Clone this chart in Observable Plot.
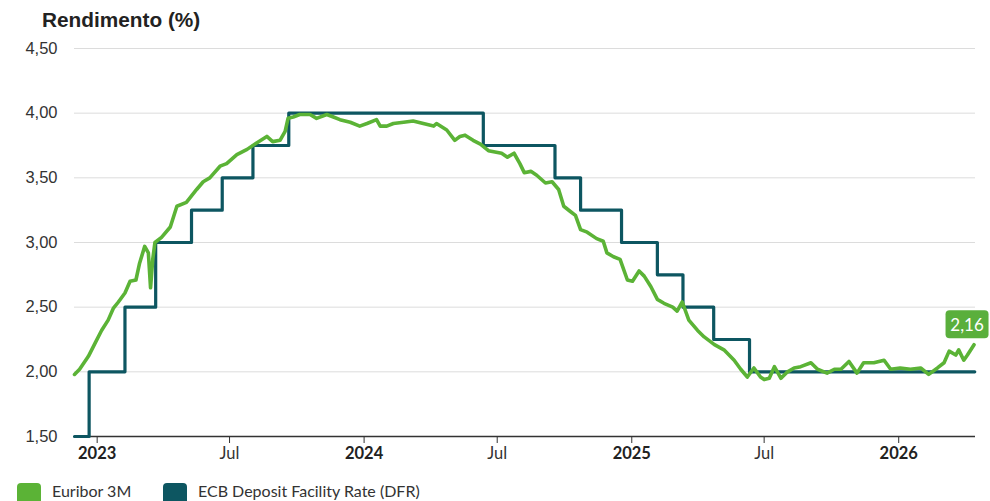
<!DOCTYPE html>
<html>
<head>
<meta charset="utf-8">
<script src="https://cdn.jsdelivr.net/npm/d3@7"></script>
<script src="https://cdn.jsdelivr.net/npm/@observablehq/plot@0.6"></script>
<style>
  html, body { margin: 0; padding: 0; background: #fff; }
  #wrap { position: relative; width: 990px; height: 501px; overflow: hidden; background: #fff; }
  #title { position: absolute; left: 42px; top: 8px; font: bold 20.8px "Liberation Sans", Arial, sans-serif; color: #222; white-space: nowrap; }
  #chart { position: absolute; left: 0; top: 30px; }
  #legend { position: absolute; left: 0; top: 482px; height: 19px; width: 990px; font: 16px Lato, sans-serif; color: #333; }
  .sw { position: absolute; top: 1px; width: 24px; height: 24px; border-radius: 4px; }
  .lab { position: absolute; top: 0px; line-height: 18px; white-space: nowrap; }
</style>
</head>
<body>
<div id="wrap">
  <div id="title"></div>
  <div id="chart"></div>
  <div id="legend"></div>
</div>
<script>
// ---- data ----
const titleText = "Rendimento (%)";
const seriesNames = ["Euribor 3M", "ECB Deposit Facility Rate (DFR)"];
const seriesColors = ["#5bb336", "#0d5661"];
const lastLabel = "2,16";

const euriborDates = [
  "2022-12-01","2022-12-08","2022-12-20","2022-12-29","2023-01-07","2023-01-16","2023-01-23","2023-01-30",
  "2023-02-08","2023-02-15","2023-02-23","2023-02-28","2023-03-07","2023-03-12","2023-03-15","2023-03-18",
  "2023-03-21","2023-03-30","2023-04-11","2023-04-20","2023-05-03","2023-05-17","2023-05-26","2023-06-04",
  "2023-06-18","2023-06-27","2023-07-11","2023-07-25","2023-08-07","2023-08-21","2023-08-29","2023-09-08",
  "2023-09-15","2023-09-19","2023-09-26","2023-10-05","2023-10-19","2023-10-28","2023-11-11","2023-11-20",
  "2023-11-29","2023-12-13","2023-12-26","2024-01-05","2024-01-18","2024-01-23","2024-02-01","2024-02-10",
  "2024-02-24","2024-03-08","2024-03-22","2024-04-05","2024-04-09","2024-04-23","2024-05-04","2024-05-11",
  "2024-05-18","2024-05-29","2024-06-08","2024-06-19","2024-06-28","2024-07-07","2024-07-15","2024-07-24",
  "2024-08-01","2024-08-07","2024-08-16","2024-08-24","2024-09-05","2024-09-14","2024-09-23","2024-09-30",
  "2024-10-09","2024-10-16","2024-10-23","2024-11-01","2024-11-14","2024-11-23","2024-11-28","2024-12-07",
  "2024-12-16","2024-12-26","2025-01-02","2025-01-11","2025-01-18","2025-01-27","2025-02-05","2025-02-14",
  "2025-02-26","2025-03-04","2025-03-11","2025-03-20","2025-04-01","2025-04-10","2025-04-24","2025-05-07",
  "2025-05-21","2025-05-30","2025-06-08","2025-06-17","2025-06-26","2025-07-01","2025-07-08","2025-07-15",
  "2025-07-24","2025-08-02","2025-08-11","2025-08-20","2025-09-03","2025-09-12","2025-09-25","2025-10-05",
  "2025-10-14","2025-10-25","2025-11-05","2025-11-14","2025-11-28","2025-12-12","2025-12-21","2026-01-03",
  "2026-01-17","2026-01-31","2026-02-11","2026-02-23","2026-03-04","2026-03-11","2026-03-20","2026-03-24",
  "2026-03-31","2026-04-05","2026-04-14"
];
const euriborValues = [
  1.98,2.02,2.12,2.22,2.32,2.40,2.49,2.54,
  2.61,2.70,2.71,2.84,2.97,2.92,2.65,2.87,
  3.00,3.04,3.12,3.28,3.31,3.41,3.47,3.50,
  3.59,3.61,3.68,3.72,3.77,3.82,3.78,3.79,
  3.86,3.96,3.97,3.99,3.99,3.96,3.99,3.97,
  3.95,3.93,3.90,3.92,3.95,3.90,3.90,3.92,
  3.93,3.94,3.92,3.90,3.92,3.87,3.79,3.82,
  3.83,3.79,3.76,3.71,3.70,3.69,3.66,3.69,
  3.61,3.54,3.55,3.52,3.46,3.47,3.41,3.28,
  3.24,3.21,3.10,3.08,3.03,3.01,2.92,2.89,
  2.87,2.71,2.70,2.78,2.74,2.66,2.56,2.53,
  2.50,2.47,2.54,2.40,2.32,2.27,2.21,2.17,
  2.09,2.02,1.96,2.03,1.96,1.94,1.95,2.04,
  1.95,2.00,2.03,2.04,2.07,2.02,1.99,2.02,
  2.02,2.08,1.99,2.07,2.07,2.09,2.02,2.03,
  2.02,2.03,1.98,2.03,2.07,2.16,2.13,2.17,
  2.09,2.13,2.21
];

const dfrDates = [
  "2022-12-01","2022-12-21","2023-02-08","2023-03-22","2023-05-10","2023-06-21","2023-08-02","2023-09-20",
  "2024-06-12","2024-09-18","2024-10-23","2024-12-18","2025-02-05","2025-03-12","2025-04-23","2025-06-11","2026-04-15"
];
const dfrValues = [1.50,2.00,2.50,3.00,3.25,3.50,3.75,4.00,3.75,3.50,3.25,3.00,2.75,2.50,2.25,2.00,2.00];

const xDomain = ["2022-12-01", "2026-04-16"];
const yDomain = [1.5, 4.5];
const yTicks = [1.5, 2.0, 2.5, 3.0, 3.5, 4.0, 4.5];
const yearTicks = ["2023-01-01","2024-01-01","2025-01-01","2026-01-01"];
const julTicks = ["2023-07-01","2024-07-01","2025-07-01"];

// ---- build ----
const parse = d3.utcParse("%Y-%m-%d");
const euribor = euriborDates.map((d, i) => ({date: parse(d), value: euriborValues[i]}));
const dfr = dfrDates.map((d, i) => ({date: parse(d), value: dfrValues[i]}));
const fmtY = v => d3.format(".2f")(v).replace(".", ",");

const last = euribor[euribor.length - 1];
function endLabel(index, scales) {
  const x = scales.x(last.date), y = scales.y(last.value);
  const g = d3.create("svg:g");
  g.append("rect").attr("x", x - 28).attr("y", y - 34).attr("width", 43).attr("height", 28)
    .attr("rx", 4).attr("fill", "#5aaf3c");
  g.append("text").attr("x", x - 6.5).attr("y", y - 20).attr("text-anchor", "middle")
    .attr("dominant-baseline", "central").attr("fill", "#fff")
    .attr("font-family", "Lato, sans-serif").attr("font-size", 17).text(lastLabel);
  return g.node();
}

const chart = Plot.plot({
  width: 990,
  height: 446,
  marginTop: 18,
  marginBottom: 40,
  marginLeft: 74,
  marginRight: 15,
  style: {background: "transparent", color: "#333"},
  x: {type: "utc", domain: xDomain.map(parse)},
  y: {domain: yDomain},
  marks: [
    Plot.gridY(yTicks.slice(1), {stroke: "#dcdcdc", strokeOpacity: 1, strokeWidth: 1}),
    Plot.axisY(yTicks, {tickSize: 0, tickPadding: 17, tickFormat: fmtY, fontSize: 16.5,
      fontFamily: "'Liberation Sans', Arial, sans-serif", fill: "#333", label: null}),
    Plot.axisX(yearTicks.map(parse), {tickSize: 7, tickPadding: 4, tickFormat: d3.utcFormat("%Y"),
      fontSize: 16.5, fontWeight: "bold", fontFamily: "Lato, sans-serif", fill: "#222", stroke: "#333", label: null}),
    Plot.axisX(julTicks.map(parse), {tickSize: 7, tickPadding: 4, tickFormat: () => "Jul",
      fontSize: 16.5, fontFamily: "Lato, sans-serif", fill: "#333", stroke: "#333", label: null}),
    Plot.ruleY([1.5], {stroke: "#333", strokeWidth: 1.6}),
    Plot.line(dfr, {x: "date", y: "value", curve: "step-after", stroke: seriesColors[1], strokeWidth: 3.2}),
    Plot.line(euribor, {x: "date", y: "value", stroke: seriesColors[0], strokeWidth: 3.6, strokeLinejoin: "round"}),
    endLabel
  ]
});
document.getElementById("chart").appendChild(chart);
document.getElementById("title").textContent = titleText;

const legend = document.getElementById("legend");
const lx = [{sw: 17, lab: 52}, {sw: 163, lab: 198}];
seriesNames.forEach((name, i) => {
  const sw = document.createElement("div");
  sw.className = "sw"; sw.style.left = lx[i].sw + "px"; sw.style.background = seriesColors[i];
  const lab = document.createElement("div");
  lab.className = "lab"; lab.style.left = lx[i].lab + "px"; lab.textContent = name;
  legend.appendChild(sw); legend.appendChild(lab);
});
</script>
</body>
</html>
